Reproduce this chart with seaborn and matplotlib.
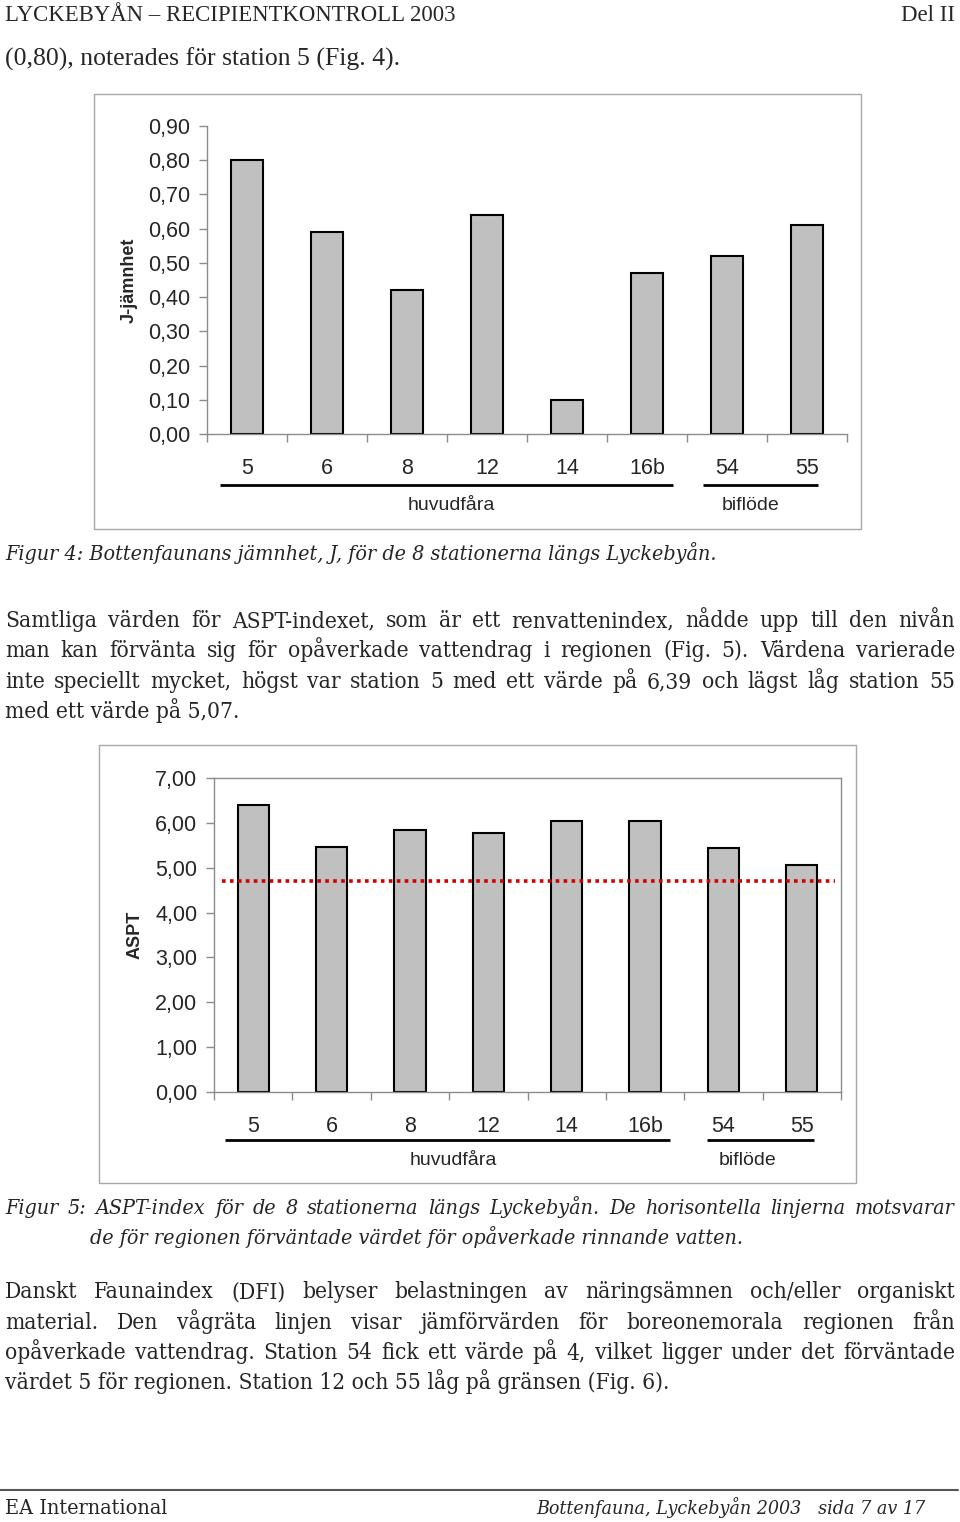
import numpy as np
import pandas as pd
import matplotlib
matplotlib.use("Agg")
import matplotlib.pyplot as plt
import seaborn as sns
from matplotlib.patches import Rectangle
from matplotlib.lines import Line2D
from matplotlib.ticker import FuncFormatter

# ---------------- data ----------------
stations = ["5", "6", "8", "12", "14", "16b", "54", "55"]
j_values = [0.80, 0.59, 0.42, 0.64, 0.10, 0.47, 0.52, 0.61]
aspt_values = [6.39, 5.47, 5.85, 5.78, 6.05, 6.05, 5.44, 5.07]
aspt_reference = 4.70
group_names = ["huvudfåra", "biflöde"]
j_ticks = [0.0, 0.1, 0.2, 0.3, 0.4, 0.5, 0.6, 0.7, 0.8, 0.9]
aspt_ticks = [0, 1, 2, 3, 4, 5, 6, 7]

header_left = "LYCKEBYÅN – RECIPIENTKONTROLL 2003"
header_right = "Del II"
intro_line = "(0,80), noterades för station 5 (Fig. 4)."
caption4 = "Figur 4: Bottenfaunans jämnhet, J, för de 8 stationerna längs Lyckebyån."
para1 = [
    "Samtliga värden för ASPT-indexet, som är ett renvattenindex, nådde upp till den nivån",
    "man kan förvänta sig för opåverkade vattendrag i regionen (Fig. 5). Värdena varierade",
    "inte speciellt mycket, högst var station 5 med ett värde på 6,39 och lägst låg station 55",
    "med ett värde på 5,07.",
]
caption5 = [
    "Figur 5: ASPT-index för de 8 stationerna längs Lyckebyån. De horisontella linjerna motsvarar",
    "de för regionen förväntade värdet för opåverkade rinnande vatten.",
]
para2 = [
    "Danskt Faunaindex (DFI) belyser belastningen av näringsämnen och/eller organiskt",
    "material. Den vågräta linjen visar jämförvärden för boreonemorala regionen från",
    "opåverkade vattendrag. Station 54 fick ett värde på 4, vilket ligger under det förväntade",
    "värdet 5 för regionen. Station 12 och 55 låg på gränsen (Fig. 6).",
]
footer_left = "EA International"
footer_right = "Bottenfauna, Lyckebyån 2003   sida 7 av 17"

# ---------------- figure ----------------
sns.set_style("white")
plt.rcParams["font.family"] = ["Liberation Sans", "DejaVu Sans"]

W, H = 960, 1522
fig = plt.figure(figsize=(W / 100, H / 100), dpi=100)
fig.patch.set_facecolor("white")
renderer = fig.canvas.get_renderer()


def fx(px):
    return px / W


def fy(py):
    return 1 - py / H


def add_ax(left, top, right, bottom):
    return fig.add_axes([fx(left), fy(bottom), (right - left) / W, (bottom - top) / H])


def measure(s, **kw):
    t = fig.text(0, 0, s, **kw)
    w = t.get_window_extent(renderer).width
    t.remove()
    return w


def fit_size(s, width, base=14, **kw):
    return base * width / measure(s, fontsize=base, **kw)


def put_line(s, x0, y, size, x1=None, justify=False, ha="left", **kw):
    if not justify:
        fig.text(fx(x0), fy(y), s, fontsize=size, va="baseline", ha=ha, **kw)
        return
    words = s.split()
    widths = [measure(w, fontsize=size, **kw) for w in words]
    gap = (x1 - x0 - sum(widths)) / (len(words) - 1)
    x = x0
    for w, wd in zip(words, widths):
        fig.text(fx(x), fy(y), w, fontsize=size, va="baseline", ha="left", **kw)
        x += wd + gap


GRAY = "#8c8c8c"
comma_fmt = FuncFormatter(lambda v, p: f"{v:.2f}".replace(".", ","))


def style_bar_axis(ax, ylim, ticks, ylabel, label_x, all_spines):
    ax.set_ylim(*ylim)
    ax.set_xlim(-0.5, len(stations) - 0.5)
    ax.set_yticks(ticks)
    ax.yaxis.set_major_formatter(comma_fmt)
    ax.set_xlabel("")
    ax.set_ylabel(ylabel, fontsize=13, fontweight="bold", family=["Liberation Sans"])
    ax.yaxis.set_label_coords(label_x, 0.5)
    for name, sp in ax.spines.items():
        sp.set_color(GRAY)
        sp.set_linewidth(1)
        if not all_spines and name in ("top", "right"):
            sp.set_visible(False)
    ax.set_xticks(np.arange(-0.5, len(stations), 1), minor=True)
    ax.tick_params(axis="y", which="major", direction="out", length=6, width=1,
                   color=GRAY, pad=6, labelsize=15.5, left=True)
    ax.tick_params(axis="x", which="major", length=0, pad=17, labelsize=15.5, bottom=True)
    ax.tick_params(axis="x", which="minor", direction="out", length=6, width=1,
                   color=GRAY, bottom=True)
    ax.grid(False)


def group_lines(ax, line_y, text_y, spans, label_x):
    tr = ax.get_xaxis_transform()
    for name, (a, b), lx in zip(group_names, spans, label_x):
        ax.plot([a, b], [line_y, line_y], transform=tr, clip_on=False,
                color="black", lw=2, solid_capstyle="butt")
        ax.text(lx, text_y, name, transform=tr, ha="center", va="center",
                fontsize=14)


# ---------- Figure 4 : J-jämnhet ----------
fig.add_artist(Rectangle((fx(94), fy(529)), (861 - 94) / W, (529 - 94) / H,
                         transform=fig.transFigure, fill=False, edgecolor="#a8a8a8", lw=1))
ax1 = add_ax(207, 126, 847, 434)
df1 = pd.DataFrame({"station": stations, "J": j_values})
sns.barplot(data=df1, x="station", y="J", ax=ax1, color="#c0c0c0", saturation=1,
            edgecolor="black", linewidth=1.5, width=0.4)
style_bar_axis(ax1, (0, 0.9), j_ticks, "J-jämnhet", -0.108, all_spines=False)
group_lines(ax1, -0.166, -0.232, [(-0.34, 5.33), (5.7, 7.14)], [2.56, 6.3])

# ---------- Figure 5 : ASPT ----------
fig.add_artist(Rectangle((fx(99), fy(1183)), (856 - 99) / W, (1183 - 745) / H,
                         transform=fig.transFigure, fill=False, edgecolor="#a8a8a8", lw=1))
ax2 = add_ax(214, 778, 841, 1092)
df2 = pd.DataFrame({"station": stations, "ASPT": aspt_values})
sns.barplot(data=df2, x="station", y="ASPT", ax=ax2, color="#c0c0c0", saturation=1,
            edgecolor="black", linewidth=1.5, width=0.4)
style_bar_axis(ax2, (0, 7), aspt_ticks, "ASPT", -0.112, all_spines=True)
ax2.axhline(aspt_reference, xmin=0.013, xmax=0.99, color="#d40000",
            lw=2.6, linestyle=(0, (1, 1.2)), zorder=5)
group_lines(ax2, -0.153, -0.217, [(-0.36, 5.32), (5.79, 7.15)], [2.55, 6.31])

# ---------------- page text ----------------
SERIF = ["DejaVu Serif"]
COND = dict(family=SERIF, stretch="condensed")
head_size = fit_size(header_left, 454, family=["Liberation Serif"])
put_line(header_left, 5, 21, head_size, family=["Liberation Serif"])
put_line(header_right, 955, 21, head_size, ha="right", family=["Liberation Serif"])

intro_size = fit_size(intro_line, 397, family=["Liberation Serif"])
put_line(intro_line, 5, 66, intro_size, family=["Liberation Serif"])

cap_size = fit_size(caption4, 712, style="italic", **COND)
put_line(caption4, 5, 560, cap_size, style="italic", **COND)

body_size = fit_size(para2[-1], 668, **COND)
for i, (s, yb) in enumerate(zip(para1, [627, 657, 688, 718])):
    put_line(s, 5, yb, body_size, x1=955, justify=(i < len(para1) - 1), **COND)

put_line(caption5[0], 5, 1214, cap_size, x1=955, justify=True, style="italic", **COND)
put_line(caption5[1], 90, 1244, cap_size, style="italic", **COND)

for i, (s, yb) in enumerate(zip(para2, [1298, 1329, 1359, 1389])):
    put_line(s, 5, yb, body_size, x1=955, justify=(i < len(para2) - 1), **COND)

fig.add_artist(Line2D([0, fx(958)], [fy(1490), fy(1490)], transform=fig.transFigure,
                      color="#555555", lw=1.5))
foot_size = fit_size(footer_left, 163, **COND)
put_line(footer_left, 5, 1514, foot_size, **COND)
foot_r_size = fit_size(footer_right, 390, style="italic", **COND)
put_line(footer_right, 925, 1514, foot_r_size, ha="right", style="italic", **COND)

fig.savefig("out.png", dpi=100, facecolor="white")
